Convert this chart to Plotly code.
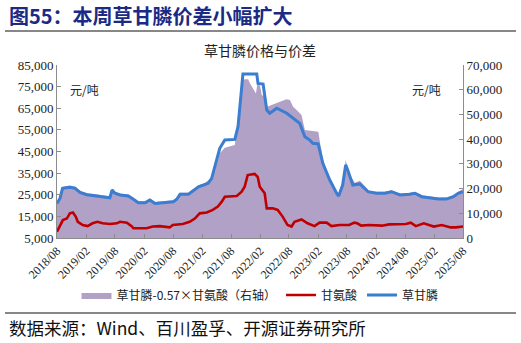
import plotly.graph_objects as go

# 草甘膦 price (元/吨, left axis)
gly_dates = [
    "2018-08-01", "2018-08-20", "2018-09-05", "2018-10-21", "2018-11-22", "2018-12-24",
    "2019-02-05", "2019-03-26", "2019-05-28", "2019-06-30", "2019-07-14", "2019-08-01",
    "2019-09-02", "2019-10-24", "2019-11-25", "2019-12-26", "2020-02-07", "2020-03-08",
    "2020-04-09", "2020-06-11", "2020-08-03", "2020-08-24", "2020-09-14", "2020-11-06",
    "2020-12-07", "2021-01-08", "2021-02-09", "2021-03-10", "2021-04-01", "2021-04-22",
    "2021-05-22", "2021-06-23", "2021-08-25", "2021-09-14", "2021-09-26", "2021-10-07",
    "2021-10-15", "2022-01-10", "2022-01-18", "2022-02-19", "2022-03-14", "2022-04-02",
    "2022-05-16", "2022-07-18", "2022-08-25", "2022-09-26", "2022-10-08", "2022-11-09",
    "2022-12-10", "2022-12-29", "2023-02-01", "2023-03-02", "2023-04-15", "2023-05-28",
    "2023-06-10", "2023-07-05", "2023-07-24", "2023-08-06", "2023-09-07", "2023-10-21",
    "2023-11-22", "2023-12-12", "2024-02-04", "2024-03-26", "2024-05-08", "2024-06-30",
    "2024-09-01", "2024-10-02", "2024-11-14", "2025-01-06", "2025-02-27", "2025-04-19",
    "2025-06-01", "2025-07-02", "2025-08-01",
]
gly_price = [
    21000, 23400, 28000, 28500, 28000, 26100,
    25000, 24600, 23800, 23600, 27200, 25700,
    24900, 24400, 22900, 21300, 21300, 22600,
    21000, 21300, 21800, 22900, 25200, 25200,
    26900, 28700, 29500, 30300, 32600, 38000,
    46500, 50300, 50600, 56500, 65700, 75000,
    80800, 80800, 76500, 76200, 64200, 62700,
    65000, 62700, 60400, 58800, 58000, 51800,
    50300, 48800, 48500, 39500, 31800, 25700,
    24400, 29500, 38800, 36400, 29500, 30000,
    28000, 26400, 25700, 25700, 26400, 24900,
    25200, 25700, 24100, 23600, 23000, 23000,
    24100, 25700, 26400,
]

# 甘氨酸 price (元/吨, left axis)
glycine_dates = [
    "2018-08-01", "2018-08-20", "2018-09-07", "2018-10-02", "2018-10-21", "2018-11-09",
    "2018-11-27", "2018-12-10", "2019-01-10", "2019-02-10", "2019-03-13", "2019-04-13",
    "2019-05-15", "2019-06-30", "2019-08-13", "2019-09-02", "2019-10-15", "2019-11-16",
    "2019-11-25", "2020-02-17", "2020-03-26", "2020-05-09", "2020-07-11", "2020-07-30",
    "2020-10-01", "2020-11-14", "2020-12-16", "2021-01-16", "2021-03-01", "2021-04-08",
    "2021-05-10", "2021-06-04", "2021-06-23", "2021-09-06", "2021-10-07", "2021-10-26",
    "2021-11-14", "2021-12-28", "2022-01-16", "2022-01-29", "2022-03-01", "2022-03-14",
    "2022-04-21", "2022-05-22", "2022-06-22", "2022-07-23", "2022-08-17", "2022-09-05",
    "2022-10-19", "2022-11-26", "2023-01-09", "2023-02-10", "2023-03-26", "2023-04-26",
    "2023-06-15", "2023-08-16", "2023-09-16", "2023-10-05", "2023-10-30", "2023-12-19",
    "2024-03-09", "2024-04-22", "2024-08-06", "2024-09-06", "2024-10-08", "2024-11-27",
    "2025-01-29", "2025-03-20", "2025-05-16", "2025-06-17", "2025-08-01",
]
glycine_price = [
    7900, 11000, 13300, 14000, 16400, 16800,
    14900, 12500, 11000, 10500, 11800, 12500,
    11800, 11500, 11800, 12500, 12100, 10300,
    9500, 9500, 10300, 10500, 9900, 11000,
    11500, 12500, 14000, 16400, 16800, 18000,
    19500, 21800, 24100, 24400, 26400, 28700,
    34100, 34600, 33300, 28700, 25700, 18700,
    18700, 18000, 14900, 11000, 10300, 12500,
    13600, 11800, 10500, 12100, 12100, 10500,
    11000, 11000, 12100, 11800, 10700, 11000,
    10700, 11300, 11500, 12100, 10500, 11800,
    10300, 11000, 9900, 9900, 10300,
]

# 草甘膦-0.57×甘氨酸 spread (元/吨, right axis)
spread_dates = [
    "2018-08-01", "2018-08-20", "2018-09-05", "2018-10-21", "2018-11-22", "2018-12-24",
    "2019-02-05", "2019-03-26", "2019-05-28", "2019-06-30", "2019-07-14", "2019-08-01",
    "2019-09-02", "2019-10-24", "2019-11-25", "2019-12-26", "2020-02-07", "2020-03-08",
    "2020-04-09", "2020-06-11", "2020-08-03", "2020-08-24", "2020-09-14", "2020-11-06",
    "2020-12-07", "2021-01-08", "2021-02-09", "2021-04-01", "2021-04-22", "2021-05-22",
    "2021-06-23", "2021-08-25", "2021-09-14", "2021-09-26", "2021-10-07", "2021-10-15",
    "2021-10-27", "2021-11-17", "2021-11-28", "2021-12-18", "2022-01-05", "2022-01-16",
    "2022-02-01", "2022-02-11", "2022-03-02", "2022-03-16", "2022-04-13", "2022-05-24",
    "2022-07-16", "2022-08-07", "2022-08-27", "2022-09-18", "2022-10-19", "2022-11-09",
    "2023-02-02", "2023-02-13", "2023-03-04", "2023-04-15", "2023-05-27", "2023-06-17",
    "2023-07-08", "2023-07-24", "2023-08-19", "2023-09-20", "2023-10-21", "2023-11-22",
    "2023-12-23", "2024-02-04", "2024-03-26", "2024-05-08", "2024-06-30", "2024-09-01",
    "2024-10-02", "2024-11-14", "2025-01-06", "2025-02-27", "2025-04-19", "2025-06-01",
    "2025-07-02", "2025-08-01",
]
spread_value = [
    14600, 16700, 20700, 21200, 20700, 19100,
    18100, 17800, 17100, 16900, 20000, 18700,
    18000, 17600, 16300, 14900, 14900, 16000,
    14600, 14900, 15300, 16300, 18300, 18300,
    19800, 21300, 22000, 24300, 27500, 34300,
    36500, 37600, 49100, 55800, 61900, 63900,
    64200, 64200, 62600, 60600, 58500, 63200,
    61200, 57900, 57200, 53100, 53800, 54700,
    56100, 55800, 53100, 51800, 49800, 43700,
    43000, 38300, 31600, 24200, 18700, 17400,
    22100, 31600, 25500, 22400, 23200, 21000,
    18700, 18700, 18700, 19300, 18000, 18300,
    18700, 17300, 16900, 16400, 16400, 17300,
    18700, 19800,
]

# x-axis ticks every six months
tick_dates = [
    "2018-08-01", "2019-02-01", "2019-08-01", "2020-02-01", "2020-08-01",
    "2021-02-01", "2021-08-01", "2022-02-01", "2022-08-01", "2023-02-01",
    "2023-08-01", "2024-02-01", "2024-08-01", "2025-02-01", "2025-08-01",
]
tick_labels = [d[:7].replace("-", "/") for d in tick_dates]

left_ticks = list(range(5000, 85001, 10000))
right_ticks = list(range(0, 70001, 10000))

CJK = "Noto Sans CJK SC"
SERIF = "Liberation Serif"
AXIS_GREY = "#8c8c8c"
PURPLE = "#B2A1C7"
RED = "#C00000"
BLUE = "#3A7DD1"

fig = go.Figure()

fig.add_trace(go.Scatter(
    x=spread_dates, y=spread_value, name="草甘膦-0.57×甘氨酸（右轴）",
    mode="lines", line=dict(width=0, color=PURPLE), fill="tozeroy",
    fillcolor=PURPLE, yaxis="y", hoverinfo="skip",
))
fig.add_trace(go.Scatter(
    x=glycine_dates, y=glycine_price, name="甘氨酸",
    mode="lines", line=dict(color=RED, width=2.6), yaxis="y2",
))
fig.add_trace(go.Scatter(
    x=gly_dates, y=gly_price, name="草甘膦",
    mode="lines", line=dict(color=BLUE, width=3), yaxis="y2",
))

L, R, T, B = 57, 463, 65, 238
W, H = 521, 343
pw, ph = R - L, B - T


def px(x):
    return (x - L) / pw


def py(y):
    return (B - y) / ph


fig.update_layout(
    width=W, height=H, autosize=False,
    margin=dict(l=L, r=W - R, t=T, b=H - B, pad=0),
    paper_bgcolor="white", plot_bgcolor="white",
    showlegend=True,
    legend=dict(
        orientation="h", x=0.5, xanchor="center", y=py(295), yanchor="middle",
        font=dict(family=CJK, size=12, color="#222"),
        itemwidth=30, tracegroupgap=0, bgcolor="rgba(0,0,0,0)",
    ),
    xaxis=dict(
        type="date", range=["2018-08-01", "2025-08-01"],
        tickvals=tick_dates, ticktext=tick_labels, tickangle=-45,
        tickfont=dict(family=SERIF, size=12, color="#222"),
        ticks="inside", ticklen=4, tickcolor=AXIS_GREY,
        showline=True, linecolor=AXIS_GREY, linewidth=1,
        showgrid=False, zeroline=False,
    ),
    yaxis=dict(
        side="right", range=[0, 70000], autorange=False, tickvals=right_ticks,
        tickformat=",d", tickfont=dict(family=SERIF, size=13, color="#222"),
        ticks="inside", ticklen=4, tickcolor=AXIS_GREY,
        showline=True, linecolor=AXIS_GREY, linewidth=1,
        showgrid=False, zeroline=False,
    ),
    yaxis2=dict(
        overlaying="y", side="left", range=[5000, 85000], autorange=False,
        tickvals=left_ticks,
        tickformat=",d", tickfont=dict(family=SERIF, size=13, color="#222"),
        ticks="inside", ticklen=4, tickcolor=AXIS_GREY,
        showline=True, linecolor=AXIS_GREY, linewidth=1,
        showgrid=False, zeroline=False,
    ),
)

annotations = [
    dict(text="<b>图55：本周草甘膦价差小幅扩大</b>", x=px(7), y=py(15),
         xanchor="left", yanchor="middle",
         font=dict(family=CJK, size=20, color="#1B2A84")),
    dict(text="草甘膦价格与价差", x=px(260), y=py(50),
         xanchor="center", yanchor="middle",
         font=dict(family=CJK, size=14, color="#222")),
    dict(text="元/吨", x=px(68), y=py(89), xanchor="left", yanchor="middle",
         font=dict(family=CJK, size=12, color="#222")),
    dict(text="元/吨", x=px(410), y=py(89), xanchor="left", yanchor="middle",
         font=dict(family=CJK, size=12, color="#222")),
    dict(text="数据来源：Wind、百川盈孚、开源证券研究所", x=px(7), y=py(327),
         xanchor="left", yanchor="middle",
         font=dict(family=CJK, size=17.5, color="#111")),
]
for a in annotations:
    a.update(xref="paper", yref="paper", showarrow=False)
fig.update_layout(annotations=annotations)

fig.update_layout(shapes=[
    dict(type="line", xref="paper", yref="paper", x0=px(5), x1=px(516),
         y0=py(31), y1=py(31), line=dict(color="#111", width=1.2)),
    dict(type="line", xref="paper", yref="paper", x0=px(5), x1=px(516),
         y0=py(313), y1=py(313), line=dict(color="#111", width=1.2)),
])

fig.write_html("out.html")
